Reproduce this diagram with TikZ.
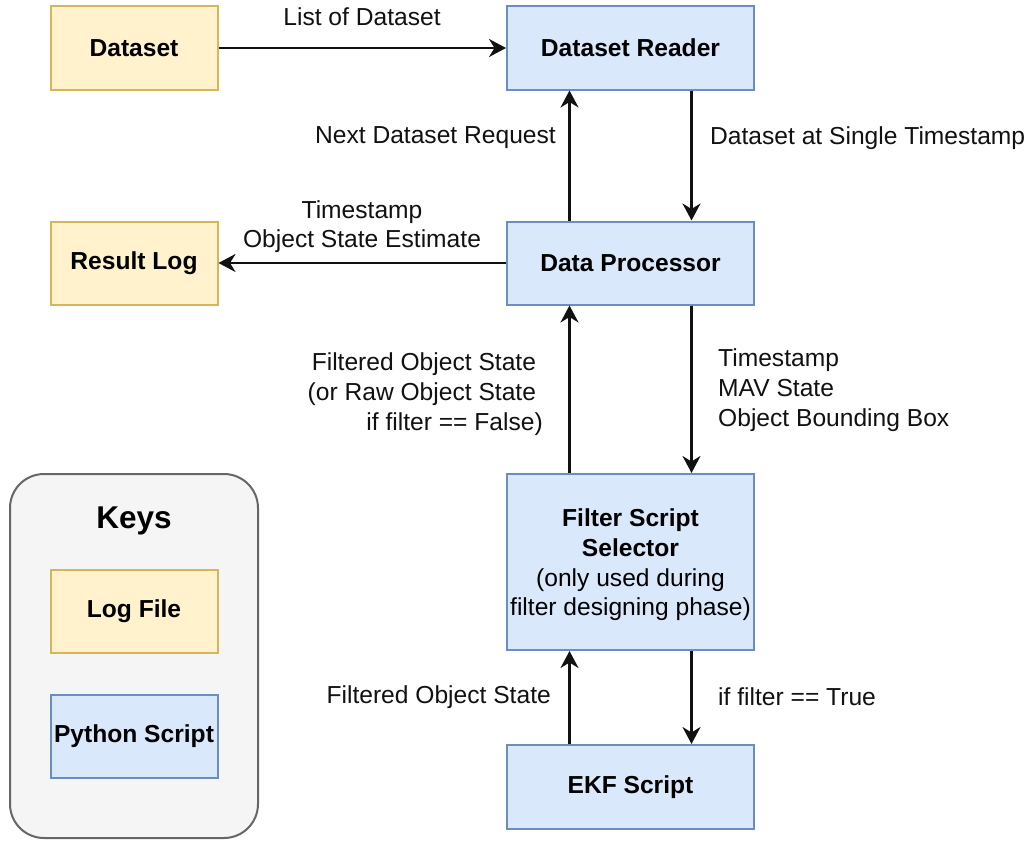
\documentclass[tikz,border=0pt]{standalone}
\usepackage{fontspec}
\setmainfont{Liberation Sans}
\usetikzlibrary{arrows.meta,calc}
\definecolor{logfill}{HTML}{FFF2CC}
\definecolor{logdraw}{HTML}{D6B656}
\definecolor{pyfill}{HTML}{DAE8FC}
\definecolor{pydraw}{HTML}{6C8EBF}
\definecolor{keyfill}{HTML}{F5F5F5}
\definecolor{keydraw}{HTML}{666666}
\definecolor{ink}{HTML}{111111}

\begin{document}
\begin{tikzpicture}[x=1pt,y=-1pt,
  font=\fontsize{24.6}{29.7}\selectfont,
  box/.style={draw, line width=2pt, inner sep=0pt, align=center,
    font=\fontsize{24.6}{29.7}\selectfont\bfseries, text=black},
  logbox/.style={box, fill=logfill, draw=logdraw,
    minimum width=167pt, minimum height=83pt},
  pybox/.style={box, fill=pyfill, draw=pydraw,
    minimum width=247pt, minimum height=83pt},
  arr/.style={line width=2.4pt, draw=ink,
    -{Stealth[length=17pt,width=18pt,inset=5.5pt]}},
  lbl/.style={inner sep=0pt, text=ink}]

\useasboundingbox (0,0) rectangle (1035,843);

% legend panel
\node[draw=keydraw, fill=keyfill, line width=2pt, rounded corners=34pt,
      minimum width=248pt, minimum height=364pt, inner sep=0pt] (keys) at (134,656) {};
\node[lbl, font=\fontsize{31.5}{36}\selectfont\bfseries, text=black] (keystitle) at (134,520.5) {Keys};
\node[logbox] (keylog) at (134,611.5) {Log File};
\node[pybox, minimum width=167pt] (keypy) at (134,736) {Python Script};

% main blocks
\node[logbox] (dataset) at (134,48) {Dataset};
\node[logbox] (result) at (134,263) {Result Log};
\node[pybox] (reader) at (630.5,48) {Dataset Reader};
\node[pybox] (proc) at (630.5,263) {Data Processor};
\node[pybox, minimum height=176pt] (filter) at (630.5,562) {};
\node[lbl, align=center, font=\fontsize{24.6}{29.7}\selectfont, text=black] (filtertext) at (630.5,565)
  {\textbf{Filter Script}\\\textbf{Selector}\\(only used during\\filter designing phase)};
\node[pybox, minimum height=84pt] (ekf) at (630.5,787) {EKF Script};

% connectors
\draw[arr] (dataset.east) -- (reader.west);
\draw[arr] (proc.west) -- (result.east);
\draw[arr] ($(reader.south west)!0.745!(reader.south east)$) -- ($(proc.north west)!0.745!(proc.north east)$);
\draw[arr] ($(proc.north west)!0.255!(proc.north east)$) -- ($(reader.south west)!0.255!(reader.south east)$);
\draw[arr] ($(proc.south west)!0.745!(proc.south east)$) -- ($(filter.north west)!0.745!(filter.north east)$);
\draw[arr] ($(filter.north west)!0.255!(filter.north east)$) -- ($(proc.south west)!0.255!(proc.south east)$);
\draw[arr] ($(filter.south west)!0.745!(filter.south east)$) -- ($(ekf.north west)!0.745!(ekf.north east)$);
\draw[arr] ($(ekf.north west)!0.255!(ekf.north east)$) -- ($(filter.south west)!0.255!(filter.south east)$);

% connector labels
\node[lbl] (l1) at (362,17) {List of Dataset};
\node[lbl, anchor=east] (l2) at (556,138) {Next Dataset Request};
\node[lbl, anchor=west] (l3) at (710,138) {Dataset at Single Timestamp};
\node[lbl, align=center] (l4) at (362,226.5) {Timestamp\\Object State Estimate};
\node[lbl, align=right, anchor=east] (l5) at (543,394)
  {Filtered Object State\rule{6.8pt}{0pt}\\(or Raw Object State\rule{6.8pt}{0pt}\\if filter == False)};
\node[lbl, align=left, anchor=west] (l6) at (718,390)
  {Timestamp\\MAV State\\Object Bounding Box};
\node[lbl, anchor=east] (l7) at (551,697) {Filtered Object State};
\node[lbl, anchor=west] (l8) at (718,697) {if filter == True};
\end{tikzpicture}
\end{document}
